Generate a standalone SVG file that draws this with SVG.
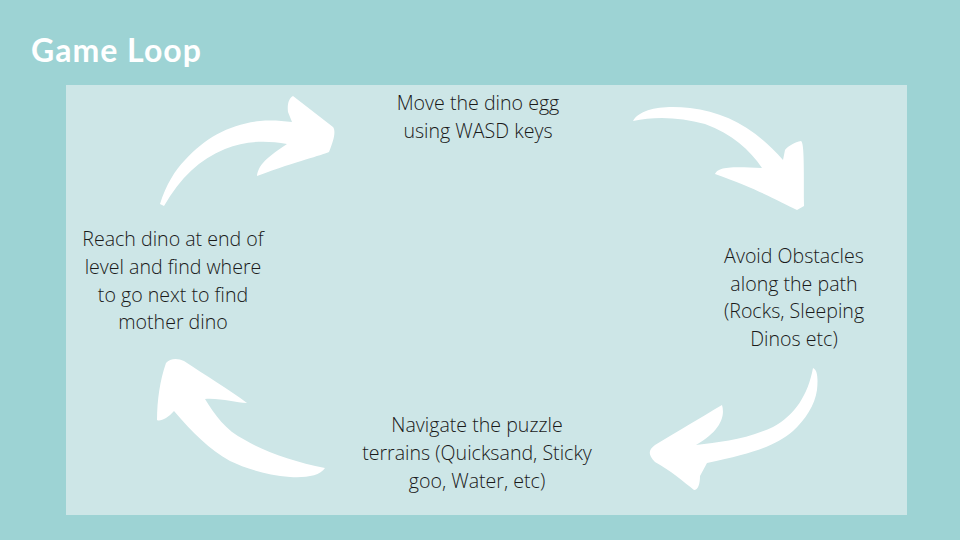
<svg xmlns="http://www.w3.org/2000/svg" width="960" height="540" viewBox="0 0 960 540">
<style>
.t{font-family:"Open Sans","Liberation Sans",sans-serif;font-weight:300;font-size:19.6px;fill:#1a1a1a;text-anchor:middle}
.arrow{fill:#ffffff}
</style>
<rect width="960" height="540" fill="#9dd3d4"/>
<rect x="66" y="85" width="841" height="430" fill="#cde6e7"/>
<text x="31" y="62" font-family="Lato,'Open Sans',sans-serif" font-weight="700" font-size="32" letter-spacing="1" fill="#ffffff">Game Loop</text>
<g id="connectors">
<path class="arrow" d="M160,204 C166,185 175,170 185,160 C205,138 230,124 260,121 C272,120 282,121 292,122 L288,112 C287,104 289,98 293,96 L333,127 C336,131 334,140 329,152 C320,156 300,160 257,176 C258,168 262,160 287,144 C265,140 245,141 225,149 C200,159 180,178 164,206 Z"/>
<path class="arrow" d="M633,121 C640,108 665,105 690,108 C725,112 755,128 783,160 L785,150 C788,146 795,142 801,141 C804,143 804,160 804,206 L797,210 C780,202 760,190 715,174 C718,168 725,166 762,168 C750,150 732,134 705,124 C680,117 655,116 633,121 Z"/>
<path class="arrow" d="M813,368 C818,370 818,380 817,390 C815,405 805,420 793,431 C775,446 755,453 707,463 L700,476 C700,484 698,490 694,490 C684,482 670,470 655,462 C648,455 648,450 655,445 C680,430 700,418 722,405 C725,415 722,430 696,445 C720,442 745,440 773,427 C795,415 808,395 813,368 Z"/>
<path class="arrow" d="M325,468 C320,476 305,478 290,477 C265,475 245,468 230,461 C210,450 192,432 174,411 C168,418 160,422 157,420 C157,400 160,380 166,363 C170,358 178,358 184,361 C205,375 230,390 247,403 C235,403 222,398 205,399 C215,415 225,430 245,440 C265,452 295,462 325,468 Z"/>
</g>
<g id="n1"><text class="t" x="478" y="110">Move the dino egg</text><text class="t" x="478" y="138">using WASD keys</text></g>
<g id="n2"><text class="t" x="794" y="263">Avoid Obstacles</text><text class="t" x="794" y="291">along the path</text><text class="t" x="794" y="318">(Rocks, Sleeping</text><text class="t" x="794" y="346">Dinos etc)</text></g>
<g id="n3"><text class="t" x="477" y="432">Navigate the puzzle</text><text class="t" x="477" y="460">terrains (Quicksand, Sticky</text><text class="t" x="477" y="488">goo, Water, etc)</text></g>
<g id="n4"><text class="t" x="173" y="246">Reach dino at end of</text><text class="t" x="173" y="274">level and find where</text><text class="t" x="173" y="302">to go next to find</text><text class="t" x="173" y="329">mother dino</text></g>
</svg>
